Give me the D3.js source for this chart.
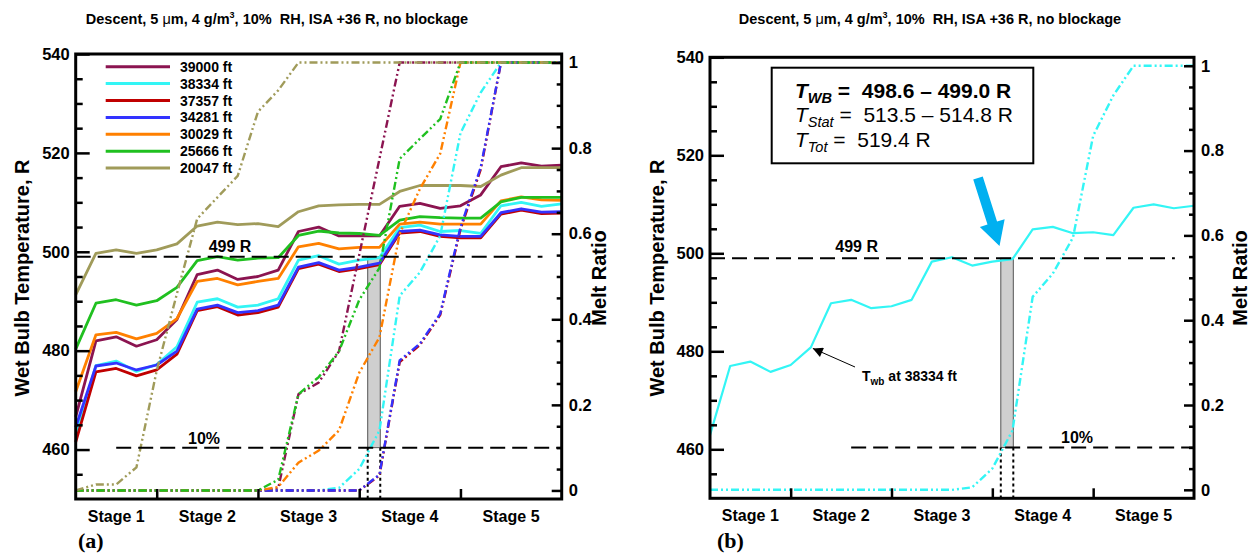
<!DOCTYPE html>
<html>
<head>
<meta charset="utf-8">
<script src="https://cdn.jsdelivr.net/npm/d3@7"></script>
<style>
  body { margin: 0; background: #fff; }
  svg { display: block; font-family: "Liberation Sans", Arial, sans-serif; }
</style>
</head>
<body>
<svg id="chart" width="1252" height="555"></svg>
<script>
// altitude series, legend order
const altitudes = ["39000 ft", "38334 ft", "37357 ft", "34281 ft", "30029 ft", "25666 ft", "20047 ft"];
const colours   = ["#8b1450", "#33f5f5", "#c00000", "#3333ff", "#ff8000", "#20c020", "#a09b5a"];

const stageNames   = ["Stage 1", "Stage 2", "Stage 3", "Stage 4", "Stage 5"];
const stageBounds  = [4, 9, 14, 19];
const stageCentres = [2, 6.5, 11.5, 16.5, 21.5];

const tempTicks = [460, 480, 500, 520, 540];
const meltTicks = [0, 0.2, 0.4, 0.6, 0.8, 1];

// wet bulb temperature, R, one value per station (25 stations)
const twb39000 = [466.6, 482.0, 482.8, 480.9, 482.2, 486.3, 495.4, 496.3, 494.4, 495.0, 496.3, 504.1, 505.0, 503.2, 503.2, 503.2, 509.2, 509.8, 508.8, 509.3, 511.5, 517.2, 518.0, 517.3, 517.5];
const twb38334 = [462.9, 477.0, 477.9, 475.8, 477.2, 480.8, 489.8, 490.5, 488.8, 489.2, 490.5, 498.3, 499.2, 497.5, 498.3, 498.8, 504.9, 505.4, 504.1, 504.3, 503.7, 509.3, 510.0, 509.2, 509.7];
const twb37357 = [461.5, 475.7, 476.4, 474.9, 476.1, 479.3, 488.1, 488.9, 487.2, 487.7, 488.8, 496.6, 497.5, 496.0, 496.6, 497.4, 503.8, 504.1, 503.1, 502.8, 502.8, 507.6, 508.4, 507.7, 507.8];
const twb34281 = [464.5, 476.9, 477.5, 476.1, 477.1, 479.9, 488.4, 489.2, 487.7, 488.1, 489.2, 496.9, 497.8, 496.3, 496.9, 497.7, 504.1, 504.4, 503.4, 503.1, 503.1, 507.9, 508.7, 508.0, 508.1];
const twb30029 = [471.7, 483.2, 483.7, 482.4, 483.5, 486.5, 494.0, 494.6, 493.3, 494.0, 494.6, 501.0, 501.7, 500.6, 500.9, 500.9, 505.6, 506.0, 505.6, 505.6, 505.6, 510.3, 511.1, 510.5, 510.4];
const twb25666 = [480.3, 489.6, 490.3, 489.2, 490.1, 492.8, 498.2, 499.0, 498.3, 498.7, 498.8, 503.3, 504.2, 503.8, 503.7, 503.3, 506.4, 507.1, 506.9, 506.8, 506.8, 510.1, 511.0, 511.0, 511.0];
const twb20047 = [491.3, 499.7, 500.4, 499.7, 500.4, 501.6, 505.2, 506.0, 505.5, 505.7, 505.1, 508.1, 509.3, 509.5, 509.6, 509.6, 512.2, 513.4, 513.4, 513.4, 513.2, 515.5, 517.0, 517.0, 517.0];

// melt ratio, same stations
const melt39000 = [0, 0, 0, 0, 0, 0, 0, 0, 0, 0, 0.005, 0.225, 0.252, 0.325, 0.55, 0.775, 1, 1, 1, 1, 1, 1, 1, 1, 1];
const melt38334 = [0, 0, 0, 0, 0, 0, 0, 0, 0, 0, 0, 0, 0, 0.006, 0.05, 0.14, 0.455, 0.51, 0.595, 0.835, 0.93, 1, 1, 1, 1];
const melt37357 = [0, 0, 0, 0, 0, 0, 0, 0, 0, 0, 0, 0, 0, 0, 0, 0.035, 0.3, 0.34, 0.41, 0.61, 0.75, 1, 1, 1, 1];
const melt34281 = [0, 0, 0, 0, 0, 0, 0, 0, 0, 0, 0, 0, 0, 0, 0, 0.037, 0.304, 0.343, 0.413, 0.615, 0.755, 1, 1, 1, 1];
const melt30029 = [0, 0, 0, 0, 0, 0, 0, 0, 0, 0, 0.008, 0.065, 0.093, 0.14, 0.275, 0.358, 0.6, 0.705, 0.787, 1, 1, 1, 1, 1, 1];
const melt25666 = [0, 0, 0, 0, 0, 0, 0, 0, 0, 0, 0.025, 0.225, 0.265, 0.325, 0.445, 0.52, 0.775, 0.822, 0.868, 1, 1, 1, 1, 1, 1];
const melt20047 = [0, 0.014, 0.014, 0.054, 0.28, 0.46, 0.635, 0.685, 0.735, 0.885, 0.935, 1, 1, 1, 1, 1, 1, 1, 1, 1, 1, 1, 1, 1, 1];

const twbAll  = [twb39000, twb38334, twb37357, twb34281, twb30029, twb25666, twb20047];
const meltAll = [melt39000, melt38334, melt37357, melt34281, melt30029, melt25666, melt20047];

// where the 10 % melt and 499 R markers sit (station index)
const band = [14.42, 15.04];

const series = altitudes.map((a, k) => ({ name: a, colour: colours[k], twb: twbAll[k], melt: meltAll[k] }));

const svg = d3.select("#chart");
svg.append("rect").attr("width", 1252).attr("height", 555).attr("fill", "#fff");

const FONT = "'Liberation Sans', Arial, sans-serif";
const NB = "\u00a0";

function drawPanel(p) {
    const g = svg.append("g");
    const x  = d3.scaleLinear().domain([0, 24]).range([p.left, p.right]);
    const yT = d3.scaleLinear().domain([450, 540]).range([p.bottom, p.top]);
    const yM = d3.scaleLinear().domain([-0.02, 1.02]).range([p.bottom, p.top]);

    // grey band + dotted drop lines
    g.append("rect")
        .attr("x", x(band[0])).attr("width", x(band[1]) - x(band[0]))
        .attr("y", yT(499)).attr("height", yM(0.1) - yT(499))
        .attr("fill", "#cfcfcf").attr("stroke", "#555").attr("stroke-width", 1);
    band.forEach(b => g.append("line")
        .attr("x1", x(b)).attr("x2", x(b)).attr("y1", yM(0.1)).attr("y2", p.bottom)
        .attr("stroke", "#000").attr("stroke-width", 2).attr("stroke-dasharray", "3,3"));

    const lineT = d3.line().x((d, i) => x(i)).y(d => yT(d));
    const lineM = d3.line().x((d, i) => x(i)).y(d => yM(d));

    p.series.forEach(s => g.append("path").datum(s.twb).attr("d", lineT)
        .attr("fill", "none").attr("stroke", s.colour).attr("stroke-width", p.lw)
        .attr("stroke-linejoin", "round"));
    p.series.forEach(s => g.append("path").datum(s.melt).attr("d", lineM)
        .attr("fill", "none").attr("stroke", s.colour).attr("stroke-width", 2.4)
        .attr("stroke-dasharray", "8,3,2,3,2,3"));

    // reference lines
    g.append("line").attr("x1", x(0)).attr("x2", x(23.05)).attr("y1", yT(499)).attr("y2", yT(499))
        .attr("stroke", "#000").attr("stroke-width", 2).attr("stroke-dasharray", "15,7");
    g.append("line").attr("x1", x(p.tenFrom)).attr("x2", x(24)).attr("y1", yM(0.1)).attr("y2", yM(0.1))
        .attr("stroke", "#000").attr("stroke-width", 2).attr("stroke-dasharray", "15,7");
    g.append("text").attr("x", x(p.lbl499)).attr("y", yT(499) - p.lbl499dy)
        .attr("text-anchor", "middle").attr("font-weight", "bold").attr("font-size", 16).text("499 R");
    g.append("text").attr("x", x(p.lbl10)).attr("y", yM(0.1) - 4)
        .attr("text-anchor", "middle").attr("font-weight", "bold").attr("font-size", 16).text("10%");

    // frame
    g.append("rect").attr("x", p.left).attr("y", p.top)
        .attr("width", p.right - p.left).attr("height", p.bottom - p.top)
        .attr("fill", "none").attr("stroke", "#000").attr("stroke-width", 3);

    const styleAxis = a => {
        a.select(".domain").remove();
        a.selectAll("line").attr("stroke", "#000").attr("stroke-width", 2.5);
        a.selectAll("text").attr("font-family", FONT).attr("font-size", 16.5)
            .attr("font-weight", "bold").attr("fill", "#000");
    };

    const minorT = d3.range(455, 540, 5).filter(v => v % 20 !== 0);
    g.append("g").attr("transform", `translate(${p.left},0)`)
        .call(d3.axisLeft(yT).tickValues(minorT).tickSizeInner(-7).tickSizeOuter(0).tickFormat(""))
        .call(styleAxis);
    g.append("g").attr("transform", `translate(${p.left},0)`)
        .call(d3.axisLeft(yT).tickValues(tempTicks).tickSizeInner(-14).tickSizeOuter(0).tickPadding(6))
        .call(styleAxis);

    const minorM = d3.range(1, 20).filter(k => k % 4 !== 0).map(k => k / 20);
    g.append("g").attr("transform", `translate(${p.right},0)`)
        .call(d3.axisRight(yM).tickValues(minorM).tickSizeInner(-5).tickSizeOuter(0).tickFormat(""))
        .call(styleAxis);
    g.append("g").attr("transform", `translate(${p.right},0)`)
        .call(d3.axisRight(yM).tickValues(meltTicks).tickSizeInner(-10).tickSizeOuter(0).tickPadding(7)
            .tickFormat(d => (d === 0 || d === 1) ? String(d) : d.toFixed(1)))
        .call(styleAxis);

    g.append("g").attr("transform", `translate(0,${p.bottom})`)
        .call(d3.axisBottom(x).tickValues(stageBounds).tickSizeInner(-10).tickSizeOuter(0).tickFormat(""))
        .call(styleAxis);

    stageNames.forEach((s, k) => g.append("text")
        .attr("x", x(stageCentres[k])).attr("y", p.bottom + 23)
        .attr("text-anchor", "middle").attr("font-weight", "bold").attr("font-size", 16).text(s));

    // axis titles
    g.append("text").attr("transform", `translate(${p.yTitleX},${278}) rotate(-90)`)
        .attr("text-anchor", "middle").attr("font-weight", "bold").attr("font-size", 20)
        .text("Wet Bulb Temperature, R");
    g.append("text").attr("transform", `translate(${p.mTitleX},${278}) rotate(-90)`)
        .attr("text-anchor", "middle").attr("font-weight", "bold").attr("font-size", 20)
        .text("Melt Ratio");

    // chart title
    const t = g.append("text").attr("x", p.titleX).attr("y", 24)
        .attr("text-anchor", "middle").attr("font-weight", "bold").attr("font-size", 14.5);
    t.append("tspan").text("Descent, 5 ");
    t.append("tspan").attr("font-weight", "normal").text("μ");
    t.append("tspan").text("m, 4 g/m");
    t.append("tspan").attr("font-size", 9).attr("dy", -6).text("3");
    t.append("tspan").attr("dy", 6).text(", 10%" + NB + " RH, ISA +36 R, no blockage");

    // panel tag
    g.append("text").attr("x", p.tagX).attr("y", 548)
        .attr("font-family", "'Liberation Serif', 'Times New Roman', serif")
        .attr("font-weight", "bold").attr("font-size", 22).text(p.tag);

    return { g, x, yT, yM };
}

// (a) all altitudes
const A = drawPanel({
    left: 75.7, right: 561.7, top: 54, bottom: 499, lw: 2.8,
    series: series, tenFrom: 2, lbl499: 7.62, lbl499dy: 4.5, lbl10: 6.34,
    yTitleX: 29, mTitleX: 606, titleX: 277, tag: "(a)", tagX: 78
});

const leg = A.g.append("g");
series.forEach((s, k) => {
    const yy = 66.7 + k * 16.9;
    leg.append("line").attr("x1", 105.7).attr("x2", 170).attr("y1", yy).attr("y2", yy)
        .attr("stroke", s.colour).attr("stroke-width", 3);
    leg.append("text").attr("x", 180).attr("y", yy + 5)
        .attr("font-weight", "bold").attr("font-size", 14).text(s.name);
});

// (b) 38334 ft only
const B = drawPanel({
    left: 710, right: 1194, top: 57.3, bottom: 498.3, lw: 2.2,
    series: [series[1]], tenFrom: 7, lbl499: 7.27, lbl499dy: 6.5, lbl10: 18.2,
    yTitleX: 664, mTitleX: 1247, titleX: 930, tag: "(b)", tagX: 717
});

// annotation box
const box = B.g.append("g");
box.append("rect").attr("x", 771.7).attr("y", 67.7).attr("width", 261.6).attr("height", 95.6)
    .attr("fill", "#fff").attr("stroke", "#000").attr("stroke-width", 2);

function boxLine(y, sub, rest, bold) {
    const t = box.append("text").attr("x", 795).attr("y", y).attr("font-size", 21)
        .attr("font-weight", bold ? "bold" : "normal");
    t.append("tspan").attr("font-style", "italic").text("T");
    t.append("tspan").attr("font-style", "italic").attr("font-size", 14.5).attr("dy", 5).text(sub);
    t.append("tspan").attr("dy", -5).text(rest);
}
boxLine(98, "WB", NB + "=" + NB + NB + "498.6 – 499.0 R", true);
boxLine(122, "Stat", NB + "=" + NB + NB + "513.5 – 514.8 R", false);
boxLine(147, "Tot", NB + "=" + NB + NB + "519.4 R", false);

// T_wb pointer
const defs = svg.append("defs");
defs.append("marker").attr("id", "head").attr("viewBox", "0 0 10 10").attr("refX", 10).attr("refY", 5)
    .attr("markerWidth", 14).attr("markerHeight", 10).attr("markerUnits", "userSpaceOnUse").attr("orient", "auto")
    .append("path").attr("d", "M0,0 L10,5 L0,10 z").attr("fill", "#000");
B.g.append("line").attr("x1", 855).attr("y1", 367).attr("x2", B.x(5) + 2).attr("y2", B.yT(twb38334[5]) + 1)
    .attr("stroke", "#000").attr("stroke-width", 1).attr("marker-end", "url(#head)");
const tw = B.g.append("text").attr("x", 862).attr("y", 381).attr("font-weight", "bold").attr("font-size", 14);
tw.append("tspan").text("T");
tw.append("tspan").attr("font-size", 10).attr("dy", 4).text("wb");
tw.append("tspan").attr("dy", -4).text(" at 38334 ft");

// big blue arrow pointing at the 499 R crossing
(function () {
    const tail = [978, 178], tip = [999.5, 246];
    const dx = tip[0] - tail[0], dy = tip[1] - tail[1], L = Math.hypot(dx, dy);
    const u = [dx / L, dy / L], n = [-u[1], u[0]];
    const hw = 5, hh = 13, hl = 24;
    const neck = [tip[0] - u[0] * hl, tip[1] - u[1] * hl];
    const pts = [
        [tail[0] + n[0] * hw, tail[1] + n[1] * hw],
        [neck[0] + n[0] * hw, neck[1] + n[1] * hw],
        [neck[0] + n[0] * hh, neck[1] + n[1] * hh],
        tip,
        [neck[0] - n[0] * hh, neck[1] - n[1] * hh],
        [neck[0] - n[0] * hw, neck[1] - n[1] * hw],
        [tail[0] - n[0] * hw, tail[1] - n[1] * hw]
    ];
    B.g.append("polygon").attr("points", pts.map(p => p.join(",")).join(" ")).attr("fill", "#00b0f0");
})();
</script>
</body>
</html>
